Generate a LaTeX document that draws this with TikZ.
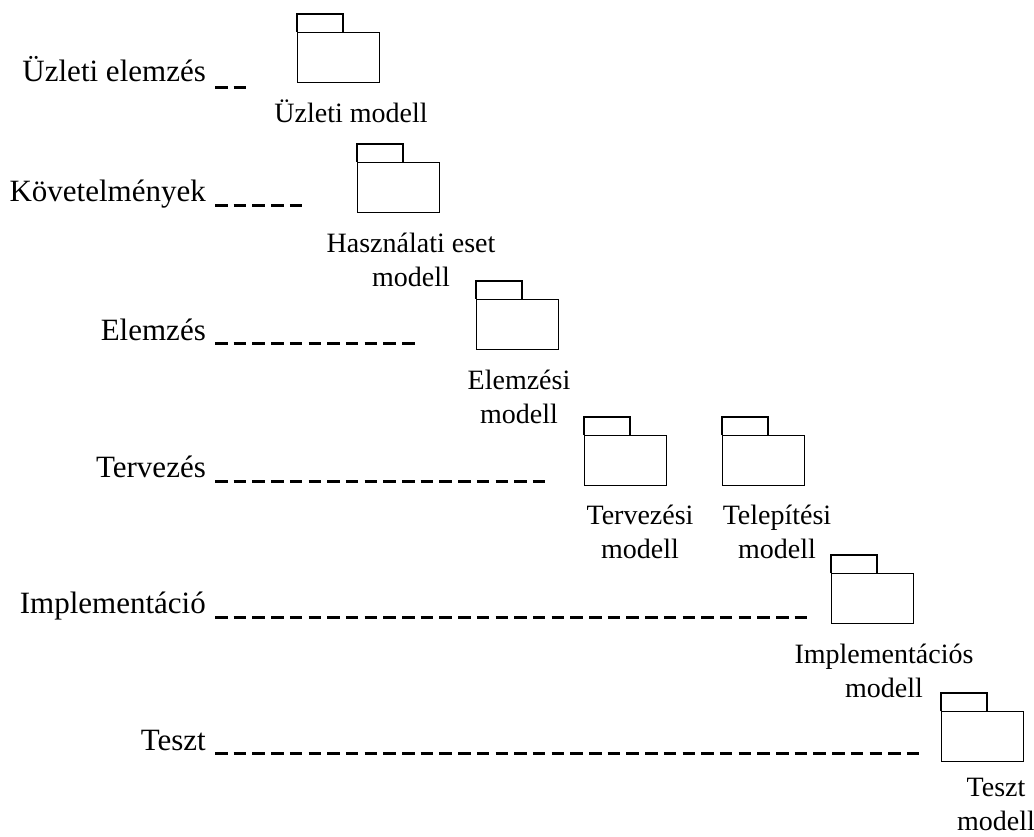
\documentclass[tikz,border=0pt]{standalone}
\usepackage{fontspec}
\setmainfont{Liberation Serif}
\begin{document}
\begin{tikzpicture}[x=1pt,y=-1pt,
  pkg/.style={draw, line width=1.2pt, minimum width=82pt, minimum height=50pt,
    inner sep=0pt, anchor=north west},
  tab/.style={draw, line width=1.2pt},
  phase/.style={font=\fontsize{31}{36}\selectfont, anchor=base east, inner sep=0pt},
  model/.style={font=\fontsize{28}{34}\selectfont, align=center, inner sep=0pt, anchor=base},
  track/.style={line width=3pt, dash pattern=on 12.5pt off 6.2pt}
]
\useasboundingbox (0,0) rectangle (1034,837);

% UML packages: body box plus a tab on its top-left corner
\node[pkg] (p1) at (297,32) {};
\node[pkg] (p2) at (357,162) {};
\node[pkg] (p3) at (476,299) {};
\node[pkg] (p4) at (584,435) {};
\node[pkg] (p5) at (722,435) {};
\node[pkg] (p6) at (831,573) {};
\node[pkg] (p7) at (941,711) {};
\foreach \p in {p1,p2,p3,p4,p5,p6,p7}
  \draw[tab] (\p.north west) -- ++(0,-18) -- ++(46,0) -- ++(0,18);

% model names under the packages (base = baseline of the last line)
\node[model] (m1) at (351,123) {Üzleti modell};
\node[model] (m2) at (411,287) {Használati eset\\modell};
\node[model] (m3) at (519,423) {Elemzési\\modell};
\node[model] (m4) at (640,558) {Tervezési\\modell};
\node[model] (m5) at (777,558) {Telepítési\\modell};
\node[model] (m6) at (884,697) {Implementációs\\modell};
\node[model] (m7) at (996,830) {Teszt\\modell};

% workflow names
\node[phase] (w1) at (206,82)  {Üzleti elemzés};
\node[phase] (w2) at (206,202) {Követelmények};
\node[phase] (w3) at (206,340) {Elemzés};
\node[phase] (w4) at (206,477) {Tervezés};
\node[phase] (w5) at (206,613) {Implementáció};
\node[phase] (w6) at (206,750) {Teszt};

% dashed tracks; each ends on a whole dash (start + n*18.7 + 12.5)
\coordinate (e1) at (246.2,88);
\coordinate (e2) at (302.3,206);
\coordinate (e3) at (414.5,343);
\coordinate (e4) at (545.4,481);
\coordinate (e5) at (807.2,617);
\coordinate (e6) at (919.4,753);
\foreach \i in {1,...,6}
  \draw[track] (w\i.east |- e\i) ++(9,0) -- (e\i);
\end{tikzpicture}
\end{document}
